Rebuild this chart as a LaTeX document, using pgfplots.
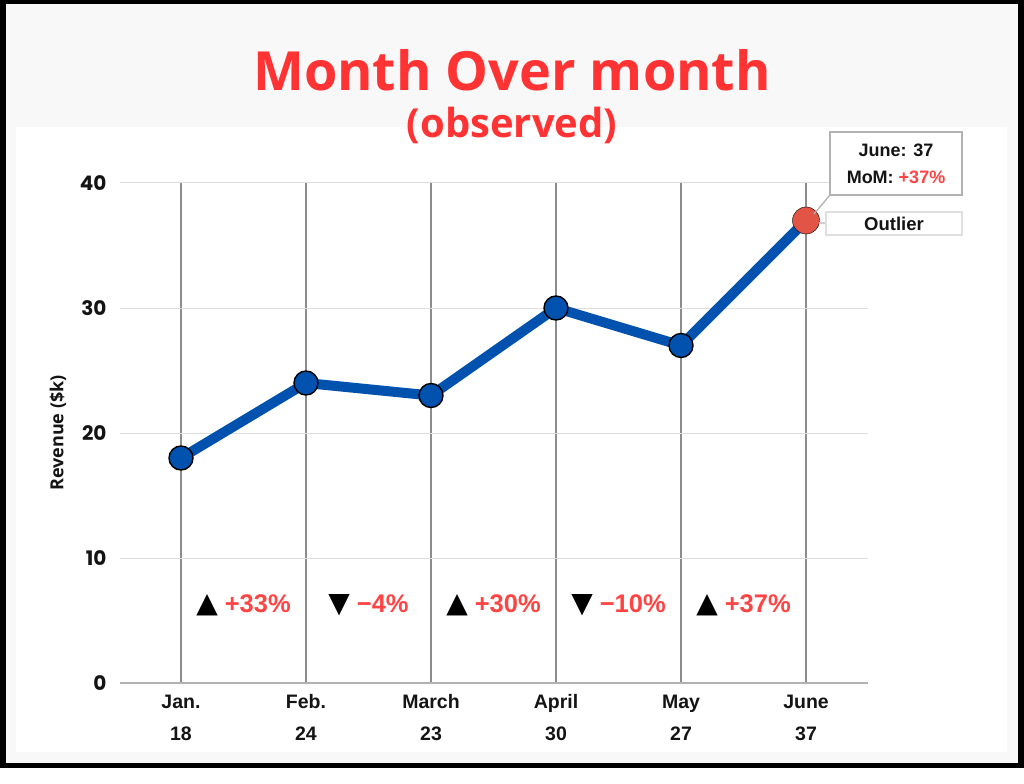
\documentclass[border=0pt]{standalone}
\usepackage{pgfplots}
\pgfplotsset{compat=1.18}
\usepackage{fontspec}
\setmainfont{Liberation Sans}
\newfontfamily\titlefont{Open Sans}
\newfontfamily\popfont{Poppins}
\newfontfamily\symfont{DejaVu Sans}
\definecolor{titlered}{RGB}{255,51,51}
\definecolor{pctred}{RGB}{255,68,68}
\definecolor{lineblue}{RGB}{0,82,174}
\definecolor{outlier}{RGB}{226,84,69}
\definecolor{bggray}{RGB}{248,248,248}
\definecolor{vgrid}{RGB}{140,140,140}
\definecolor{hgrid}{RGB}{222,222,222}
\definecolor{txt}{RGB}{20,20,20}
\newcommand\chg[2]{{\symfont\fontsize{28}{28}\selectfont#1}\hspace{7pt}{\bfseries\fontsize{25.5}{26}\selectfont\color{pctred}#2}}

\begin{document}
\begin{tikzpicture}[x=1pt,y=1pt]
% frame and panels
\fill[black] (0,0) rectangle (1024,768);
\fill[bggray] (6,5) rectangle (1018,764);
\fill[white] (16,16) rectangle (1007,641);
% title
\node[anchor=base,text=titlered,inner sep=0] at (512,677)
  {\titlefont\fontsize{54}{54}\selectfont\bfseries Month Over month};
\node[anchor=base,text=titlered,inner sep=0] at (512,630)
  {\titlefont\fontsize{40}{40}\selectfont\bfseries (observed)};

\begin{axis}[
  at={(120pt,85pt)}, anchor=south west,
  scale only axis, width=748pt, height=500pt,
  xmin=-0.488, xmax=5.496, ymin=0, ymax=40,
  axis x line*=bottom, axis y line*=left,
  x axis line style={draw=gray!60, line width=1.2pt},
  y axis line style={draw=none},
  major tick length=0pt,
  xtick={0,1,2,3,4,5},
  xticklabels={{Jan.\\18},{Feb.\\24},{March\\23},{April\\30},{May\\27},{June\\37}},
  xticklabel style={align=center, text=txt, anchor=north,
    text height=15pt, text depth=40pt,
    font=\bfseries\fontsize{19.5}{32}\selectfont, yshift=-39pt},
  ytick={0,10,20,30,40},
  /pgf/number format/assume math mode=true,
  yticklabel style={text=txt, font=\popfont\bfseries\fontsize{20}{20}\selectfont, xshift=-10pt},
  ylabel={Revenue (\$k)},
  every axis y label/.style={at={(axis description cs:-0.083,0.5)}, rotate=90, anchor=center},
  ylabel style={text=txt, font=\titlefont\bfseries\fontsize{18}{18}\selectfont},
  xmajorgrids, ymajorgrids,
  x grid style={draw=vgrid, line width=1.3pt},
  y grid style={draw=hgrid, line width=1pt},
  clip=false,
]
\addplot[line width=10pt, color=lineblue, line join=round, no markers]
  coordinates {(0,18) (1,24) (2,23) (3,30) (4,27) (5,37)};
\addplot[only marks, mark=*, mark size=12pt,
  mark options={fill=lineblue, draw=black, line width=1.4pt}]
  coordinates {(0,18) (1,24) (2,23) (3,30) (4,27)};
\addplot[only marks, mark=*, mark size=13.5pt,
  mark options={fill=outlier, draw=none}]
  coordinates {(5,37)};
% month-over-month changes
\node at (axis cs:0.5,6.25) {\chg{▲}{+33\%}};
\node at (axis cs:1.5,6.25) {\chg{▼}{−4\%}};
\node at (axis cs:2.5,6.25) {\chg{▲}{+30\%}};
\node at (axis cs:3.5,6.25) {\chg{▼}{−10\%}};
\node at (axis cs:4.5,6.25) {\chg{▲}{+37\%}};
\end{axis}

% callouts for June
\draw[gray!60, line width=1.3pt] (830,573) -- (814,554);
\draw[gray!40, line width=1.3pt] (819,545) -- (826,545);
\draw[gray!60, line width=1.5pt, fill=white] (830,573) rectangle (962,636);
\node[text=txt] at (896,618) {\bfseries\fontsize{18}{18}\selectfont June: 37};
\node[text=txt] at (896,591) {\bfseries\fontsize{18}{18}\selectfont MoM: {\color{pctred}+37\%}};
\draw[gray!25, line width=1.3pt, fill=white] (826,533) rectangle (962,556);
\node[text=txt] at (894,544.5) {\bfseries\fontsize{18.5}{18.5}\selectfont Outlier};
\end{tikzpicture}
\end{document}
